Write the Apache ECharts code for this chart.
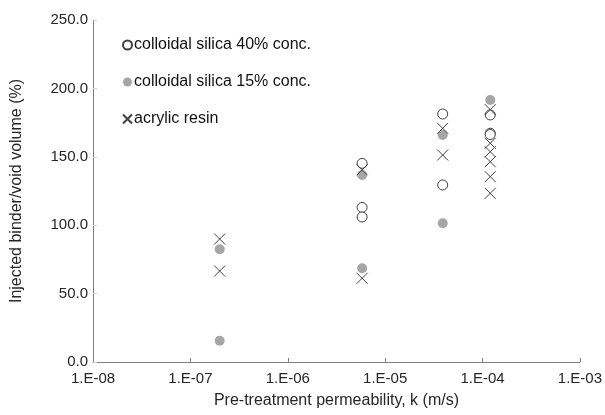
<!DOCTYPE html>
<html>
<head>
<meta charset="utf-8">
<script src="https://cdn.jsdelivr.net/npm/echarts@6/dist/echarts.min.js"></script>
<style>
html,body{margin:0;padding:0;background:#fff;}
#c{width:605px;height:415px;}
</style>
</head>
<body>
<div id="c"></div>
<script>
// Data (x = permeability in m/s, y = injected binder / void volume %)
const silica40_x = [5.8e-6, 5.8e-6, 5.8e-6, 3.9e-5, 3.9e-5, 1.2e-4, 1.2e-4, 1.2e-4];
const silica40_y = [145.2, 113.0, 106.0, 181.3, 129.4, 180.6, 167.2, 166.3];
const silica15_x = [2.0e-7, 2.0e-7, 5.8e-6, 5.8e-6, 3.9e-5, 3.9e-5, 1.2e-4];
const silica15_y = [82.4, 15.5, 136.7, 68.5, 165.9, 101.4, 191.5];
const acrylic_x = [2.0e-7, 2.0e-7, 5.8e-6, 5.8e-6, 3.9e-5, 3.9e-5, 1.2e-4, 1.2e-4, 1.2e-4, 1.2e-4, 1.2e-4, 1.2e-4];
const acrylic_y = [89.9, 66.5, 140.5, 61.2, 170.8, 151.3, 184.5, 159.9, 153.7, 146.4, 135.5, 123.3];
const seriesNames = ['colloidal silica 40% conc.', 'colloidal silica 15% conc.', 'acrylic resin'];
const yTicks = [0, 50, 100, 150, 200, 250];
const xMin = 1e-8, xMax = 1e-3;

function pairs(xs, ys){ return xs.map((x,i)=>[x, ys[i]]); }

const FONT = '"Liberation Sans", Arial, sans-serif';
const chart = echarts.init(document.getElementById('c'), null, {renderer:'canvas'});
chart.setOption({
  animation:false,
  backgroundColor:'#fff',
  grid:{left:93, right:25, top:20, bottom:53, containLabel:false},
  legend:{
    orient:'vertical', left:117, top:32, itemGap:21,
    itemWidth:9, itemHeight:9,
    textStyle:{fontFamily:FONT, fontSize:16, color:'#111', padding:[0,0,0,-3]},
    data:seriesNames
  },
  xAxis:{
    type:'log', logBase:10, min:xMin, max:xMax,
    name:'Pre-treatment permeability, k (m/s)', nameLocation:'middle', nameGap:31,
    nameTextStyle:{fontFamily:FONT, fontSize:16, color:'#262626'},
    axisLine:{lineStyle:{color:'#7f7f7f', width:1}},
    axisTick:{inside:true, length:4, lineStyle:{color:'#7f7f7f'}},
    splitLine:{show:false}, minorTick:{show:false},
    axisLabel:{fontFamily:FONT, fontSize:15, color:'#262626', margin:9,
      formatter:function(v){ const e=Math.round(Math.log10(v)); const a=Math.abs(e); return '1.E'+(e<0?'-':'+')+(a<10?'0':'')+a; }}
  },
  yAxis:{
    type:'value', min:0, max:250, interval:50,
    name:'Injected binder/void volume (%)', nameLocation:'middle', nameGap:68, nameRotate:90,
    nameTextStyle:{fontFamily:FONT, fontSize:16, color:'#262626'},
    axisLine:{show:true, lineStyle:{color:'#7f7f7f', width:1}},
    axisTick:{show:true, inside:true, length:4, lineStyle:{color:'#d0d0d0'}},
    splitLine:{show:false},
    axisLabel:{fontFamily:FONT, fontSize:15, color:'#262626', margin:5,
      formatter:function(v){ return v.toFixed(1); }}
  },
  series:[
    {name:seriesNames[0], type:'scatter', symbol:'circle', symbolSize:10,
     itemStyle:{color:'#fff', borderColor:'#404040', borderWidth:1, opacity:1},
     data:pairs(silica40_x, silica40_y), z:2},
    {name:seriesNames[1], type:'scatter', symbol:'circle', symbolSize:10,
     itemStyle:{color:'#a6a6a6', borderWidth:0, opacity:1},
     data:pairs(silica15_x, silica15_y), z:3},
    {name:seriesNames[2], type:'scatter', symbol:'path://M0,0L10,10M10,0L0,10', symbolSize:11,
     itemStyle:{color:'rgba(0,0,0,0)', borderColor:'#404040', borderWidth:1, opacity:1},
     data:pairs(acrylic_x, acrylic_y), z:4}
  ]
});
</script>
</body>
</html>
